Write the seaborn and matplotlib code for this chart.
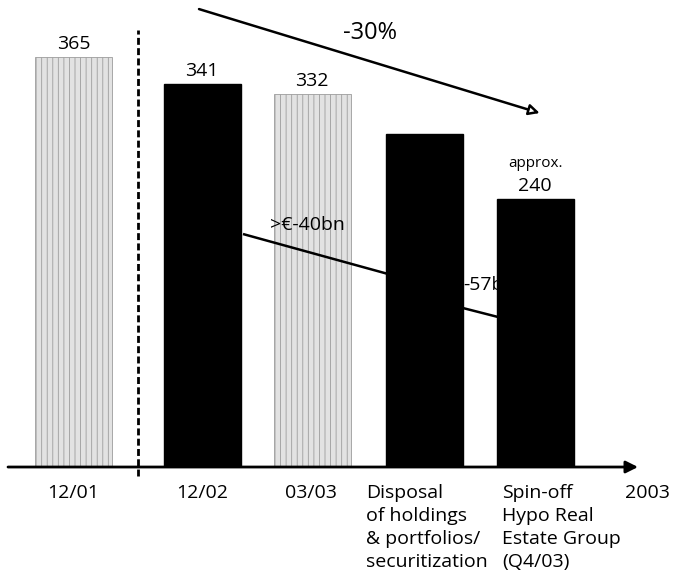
import matplotlib
matplotlib.use("Agg")
import matplotlib.pyplot as plt
import matplotlib.transforms as mtransforms
import seaborn as sns
import pandas as pd

# ---- data ----
categories = ["12/01", "12/02", "03/03",
              "Disposal\nof holdings\n& portfolios/\nsecuritization",
              "Spin-off\nHypo Real\nEstate Group\n(Q4/03)"]
values = [365, 341, 332, 297, 240]
shade = ["light", "dark", "light", "dark", "dark"]
value_labels = ["365", "341", "332", "", "240"]
value_prefix = ["", "", "", "", "approx."]
axis_end_label = "2003"
total_change = "-30%"
step_change_1 = ">€-40bn"
step_change_2 = "-57bn"

# ---- layout (positions / styles) ----
pos = [0.0, 1.16, 2.15, 3.16, 4.16]
label_x = [0.0, 1.16, 2.14, 2.635, 3.86]
label_ha = ["center", "center", "center", "left", "left"]
FONT = "Open Sans"

sns.set_theme(style="white")
plt.rcParams["font.family"] = [FONT, "DejaVu Sans"]
plt.rcParams["hatch.linewidth"] = 0.6
plt.rcParams["text.color"] = "black"

fig = plt.figure(figsize=(6.74, 5.87), dpi=100)
ax = fig.add_axes([0, 0.2044, 1, 0.7956])

df = pd.DataFrame({"pos": pos, "value": values, "shade": shade})
sns.barplot(data=df, x="pos", y="value", hue="shade",
            palette={"light": "#e2e2e2", "dark": "#000000"},
            native_scale=True, width=0.70, dodge=False, legend=False,
            saturation=1, ax=ax)

ax.set_xlim(-0.662, 5.410)
ax.set_ylim(3.7, 415.2)
for s in ax.spines.values():
    s.set_visible(False)
ax.set_xticks([])
ax.set_yticks([])
ax.set_xlabel("")
ax.set_ylabel("")

for patch in ax.patches:
    fc = patch.get_facecolor()
    if fc[0] < 0.5:
        patch.set_zorder(3)
        patch.set_edgecolor("black")
    else:
        patch.set_zorder(1)
        patch.set_edgecolor("#9c9c9c")
        patch.set_hatch("|||")
        patch.set_linewidth(0.6)

# value labels
for p, v, lab, pre in zip(pos, values, value_labels, value_prefix):
    if lab:
        ax.annotate(lab, xy=(p, v), xytext=(0, 3), textcoords="offset points",
                    ha="center", va="bottom", fontsize=14, zorder=4)
    if pre:
        ax.annotate(pre, xy=(p, v), xytext=(0, 20), textcoords="offset points",
                    ha="center", va="bottom", fontsize=11, zorder=4)

# dashed separator
ax.axvline(0.581, ymin=-0.02, ymax=0.936, color="black", lw=2,
           ls=(0, (2.5, 1.2)), clip_on=False, zorder=2)

# total change arrow
ax.annotate("", xy=(4.20, 315.6), xytext=(1.131, 407.2),
            arrowprops=dict(arrowstyle="-|>", lw=1.8, color="black",
                            fc="white", mutation_scale=16, shrinkA=0, shrinkB=0),
            zorder=4)
ax.text(2.671, 386.5, total_change, ha="center", va="center", fontsize=17)

# step line (behind dark bars)
ax.plot([1.527, 3.16], [209, 165], color="black", lw=1.8, zorder=2,
        solid_capstyle="butt")
ax.plot([3.16, 3.90], [152.5, 134], color="black", lw=1.8, zorder=2,
        solid_capstyle="butt")
ax.text(1.77, 216.9, step_change_1, ha="left", va="center", fontsize=14, zorder=2)
ax.text(3.509, 164, step_change_2, ha="left", va="center", fontsize=14, zorder=2)

# x axis arrow
ax.annotate("", xy=(638 / 674, 0), xytext=(8 / 674, 0),
            xycoords="axes fraction", textcoords="axes fraction",
            arrowprops=dict(arrowstyle="-|>", lw=2, color="black",
                            mutation_scale=18, shrinkA=0, shrinkB=0),
            annotation_clip=False, zorder=5)

# category labels
trans = mtransforms.blended_transform_factory(ax.transData, ax.transAxes)
for lx, ha, cat in zip(label_x, label_ha, categories):
    ax.text(lx, -0.036, cat, transform=trans, ha=ha, va="top",
            fontsize=14, linespacing=1.35, clip_on=False)
ax.text(4.968, -0.036, axis_end_label, transform=trans, ha="left", va="top",
        fontsize=14, clip_on=False)

fig.savefig("out.png", dpi=100)
